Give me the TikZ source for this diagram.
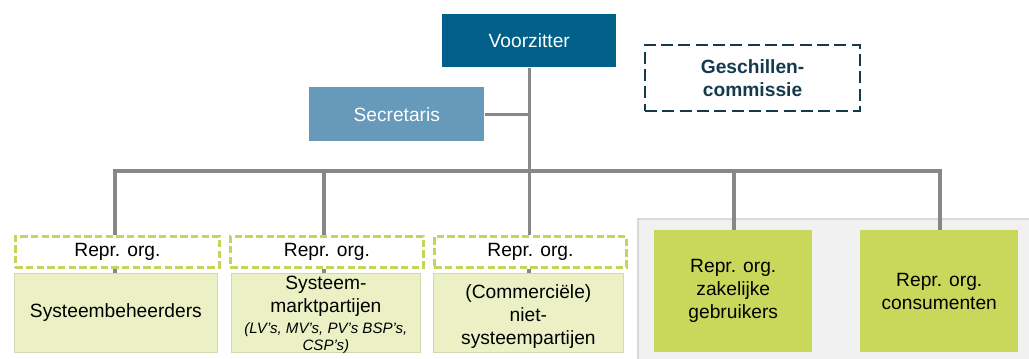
\documentclass[tikz,border=0pt]{standalone}
\usepackage{fontspec}
\setmainfont{Liberation Sans}
\definecolor{chairblue}{HTML}{00608A}
\definecolor{secblue}{HTML}{6699BA}
\definecolor{navy}{HTML}{163A4D}
\definecolor{linegray}{HTML}{878787}
\definecolor{limedark}{HTML}{C9D75B}
\definecolor{limedash}{HTML}{C6D55A}
\definecolor{limelight}{HTML}{EBF1C5}
\definecolor{limeedge}{HTML}{D3D8B2}
\definecolor{panelfill}{HTML}{F1F1F1}
\definecolor{paneledge}{HTML}{D9D9D9}
\tikzset{
  txt/.style={font=\fontsize{14.4}{17.25}\selectfont, align=center, inner sep=0pt, anchor=north west},
  topbox/.style={txt, text=white, minimum height=39.75pt},
  reprbox/.style={txt, draw=limedash, fill=white, line width=2.2pt, dash pattern=on 5.5pt off 2.5pt, minimum height=23.25pt},
  groupbox/.style={txt, draw=limeedge, fill=limelight, line width=0.6pt, minimum height=59.25pt},
  memberbox/.style={txt, fill=limedark, minimum width=118.5pt, minimum height=91.5pt},
  link/.style={draw=linegray, line width=2.4pt},
}
\begin{document}
\begin{tikzpicture}[x=0.75pt, y=-0.75pt]
\useasboundingbox (0,0) rectangle (1029,359);
% grey panel behind the two member organisations
\begin{scope}
  \clip (0,0) rectangle (1029,359);
  \draw[paneledge, fill=panelfill, line width=0.8pt] (638,219) rectangle (1040,370);
\end{scope}

% top of the structure
\node[topbox, fill=chairblue, minimum width=130.5pt] (vz) at (442,14) {Voorzitter};
\node[topbox, fill=secblue, minimum width=131.25pt, minimum height=40.5pt] (sec) at (309,87) {Secretaris};
\node[txt, draw=navy, text=navy, font=\fontsize{14.4}{17.25}\selectfont\bfseries,
      line width=1.6pt, dash pattern=on 9pt off 4pt,
      minimum width=161.25pt, minimum height=49.5pt] (gc) at (644,44) {Geschillen-\\commissie};

% representative organisations
\node[reprbox, minimum width=153pt] (r1) at (14,235) {Repr. org.};
\node[reprbox, minimum width=144.75pt] (r2) at (229,235) {Repr. org.};
\node[reprbox, minimum width=144pt] (r3) at (433,235) {Repr. org.};

\node[groupbox, minimum width=152.25pt] (b1) at (14,273) {Systeembeheerders};
\node[groupbox, minimum width=141.75pt] (b2) at (231,273) {};
\node[txt, anchor=center] (b2t) at ([yshift=-1.5pt]b2.center) {Systeem-\\marktpartijen\\[-2pt]
  {\fontsize{11.3}{12.5}\selectfont\itshape (LV’s, MV’s, PV’s BSP’s,}\\[-4.5pt]
  {\fontsize{11.3}{12.5}\selectfont\itshape CSP’s)}};
\node[groupbox, minimum width=142.5pt] (b3) at (433,273) {};
\node[txt, anchor=center] (b3t) at ([yshift=-2.5pt]b3.center) {(Commerciële)\\niet-\\systeempartijen};

\node[memberbox] (g4) at (654,230) {Repr. org.\\zakelijke\\gebruikers};
\node[memberbox] (g5) at (860,230) {Repr. org.\\consumenten};

% connector bar and its drop points
\coordinate (k1) at (115,171);
\coordinate (k2) at (324,171);
\coordinate (k3) at (529,171);
\coordinate (k4) at (734,171);
\coordinate (k5) at (940,171);

\draw[link] (vz.south) -- (vz.south |- r3.north);
\draw[link] (sec.east) -- (sec.east -| vz.south);
\draw[link] (k1 |- r1.north) -- (k1) -- (k5) -- (k5 |- g5.north);
\draw[link] (k2) -- (k2 |- r2.north);
\draw[link] (k4) -- (k4 |- g4.north);

% short links from each representative to its group
\draw[link] (k1 |- r1.south) -- (k1 |- b1.north);
\draw[link] (k2 |- r2.south) -- (k2 |- b2.north);
\draw[link] (k3 |- r3.south) -- (k3 |- b3.north);
\end{tikzpicture}
\end{document}
